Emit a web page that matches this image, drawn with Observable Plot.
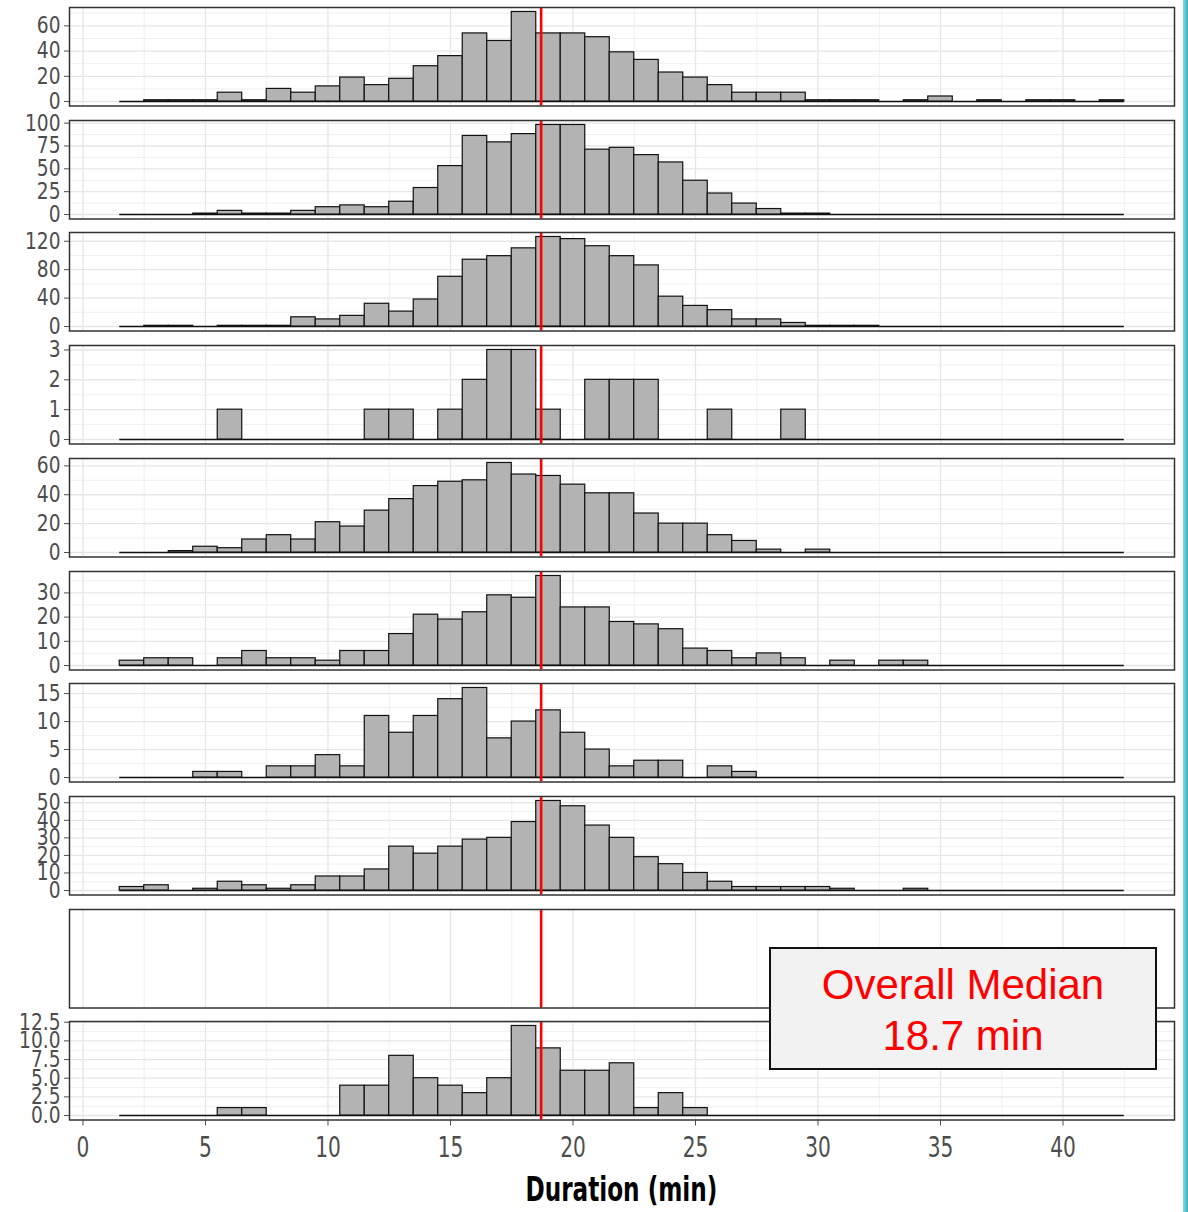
<!DOCTYPE html>
<html><head><meta charset="utf-8">
<script src="https://cdn.jsdelivr.net/npm/d3@7"></script>
<script src="https://cdn.jsdelivr.net/npm/@observablehq/plot@0.6"></script>
<style>
html,body{margin:0;padding:0;background:#fff;}
#chart{position:relative;width:1188px;height:1212px;overflow:hidden;background:#fff;}
.panel{position:absolute;left:0;}
#xtitle{position:absolute;left:69px;width:1105px;top:1170px;text-align:center;font-weight:bold;font-size:33px;font-family:'Liberation Sans Narrow','DejaVu Sans Condensed','Liberation Sans',sans-serif;color:#000;transform:scaleX(0.78);transform-origin:552px 50%;}
#note{position:absolute;left:769px;top:947px;width:388px;height:123px;box-sizing:border-box;border:2px solid #111;background:#f2f2f2;font-size:42px;font-family:'Liberation Sans',Arial,sans-serif;color:#ff0000;text-align:center;line-height:51px;padding-top:10px;}
#stripe{position:absolute;left:1183px;top:0;width:5px;height:1212px;background:linear-gradient(to right,#8adbe4,#2fb3c4);}
</style></head>
<body><div id="chart"></div>
<script>
// Histogram bin centres (minutes), bin width 1
const durationBins = [2,3,4,5,6,7,8,9,10,11,12,13,14,15,16,17,18,19,20,21,22,23,24,25,26,27,28,29,30,31,32,33,34,35,36,37,38,39,40,41,42];
const binWidth = 1;
const overallMedian = 18.7;

// Counts per panel (bins 2..42)
const counts1 = [0,1,1,1,7,1,10,7,12,19, 13,18,28,36,54,48,71,54,54,51, 39,33,23,19,13,7,7,7,1,1, 1,0,1,4,0,1,0,1,1,0,1];
const counts2 = [0,0,0,1,4,1,1,4,8,10, 8,14,29,53,86,79,88,98,98,71, 73,65,57,37,23,12,6,1,1,0, 0,0,0,0,0,0,0,0,0,0,0];
const counts3 = [0,1,1,0,1,1,1,13,10,15, 32,21,38,70,94,99,110,126,123,113, 99,86,42,29,23,10,10,5,1,1, 1,0,0,0,0,0,0,0,0,0,0];
const counts4 = [0,0,0,0,1,0,0,0,0,0, 1,1,0,1,2,3,3,1,0,2, 2,2,0,0,1,0,0,1,0,0, 0,0,0,0,0,0,0,0,0,0,0];
const counts5 = [0,0,1,4,3,9,12,9,21,18, 29,37,46,49,50,62,54,53,47,41, 41,27,20,20,12,8,2,0,2,0, 0,0,0,0,0,0,0,0,0,0,0];
const counts6 = [2,3,3,0,3,6,3,3,2,6, 6,13,21,19,22,29,28,37,24,24, 18,17,15,7,6,3,5,3,0,2, 0,2,2,0,0,0,0,0,0,0,0];
const counts7 = [0,0,0,1,1,0,2,2,4,2, 11,8,11,14,16,7,10,12,8,5, 2,3,3,0,2,1,0,0,0,0, 0,0,0,0,0,0,0,0,0,0,0];
const counts8 = [2,3,0,1,5,3,1,3,8,8, 12,25,21,25,29,30,39,51,48,37, 30,19,15,10,5,2,2,2,2,1, 0,0,1,0,0,0,0,0,0,0,0];
const counts9 = [];
const counts10 = [0,0,0,0,1,1,0,0,0,4, 4,8,5,4,3,5,12,9,6,6, 7,1,3,1,0,0,0,0,0,0, 0,0,0,0,0,0,0,0,0,0,0];

// Tick labels
const yTicks1 = [0,20,40,60];
const yTicks2 = [0,25,50,75,100];
const yTicks3 = [0,40,80,120];
const yTicks4 = [0,1,2,3];
const yTicks5 = [0,20,40,60];
const yTicks6 = [0,10,20,30];
const yTicks7 = [0,5,10,15];
const yTicks8 = [0,10,20,30,40,50];
const yTicks9 = [];
const yTicks10 = [0,2.5,5,7.5,10,12.5];
const xTicks = [0,5,10,15,20,25,30,35,40];
const xLabel = "Duration (min)";
const noteLines = ["Overall Median", "18.7 min"];

const intFmt = d3.format("d");
const decFmt = d3.format(".1f");
const panels = [
  {counts: counts1, ticks: yTicks1, fmt: intFmt},
  {counts: counts2, ticks: yTicks2, fmt: intFmt},
  {counts: counts3, ticks: yTicks3, fmt: intFmt},
  {counts: counts4, ticks: yTicks4, fmt: intFmt},
  {counts: counts5, ticks: yTicks5, fmt: intFmt},
  {counts: counts6, ticks: yTicks6, fmt: intFmt},
  {counts: counts7, ticks: yTicks7, fmt: intFmt},
  {counts: counts8, ticks: yTicks8, fmt: intFmt},
  {counts: counts9, ticks: yTicks9, fmt: intFmt},
  {counts: counts10, ticks: yTicks10, fmt: decFmt}
];

const chart = document.getElementById("chart");
const W = 1188, mL = 69, mR = 14;
const panelH = 98.5, period = 112.7, firstTop = 7;
const edgeLo = d3.min(durationBins) - binWidth / 2;
const edgeHi = d3.max(durationBins) + binWidth / 2;
const pad = (edgeHi - edgeLo) * 0.05;
const xDomain = [edgeLo - pad, edgeHi + pad];
const xMinor = xTicks.map(t => t + 2.5).filter(t => t > xDomain[0] && t < xDomain[1]);
const fontFam = "'Liberation Sans Narrow','DejaVu Sans Condensed','Liberation Sans',sans-serif";

// narrow the axis label glyphs horizontally around their anchor points
function squeeze(svg, selector, s) {
  svg.querySelectorAll(selector).forEach(t => {
    const x = parseFloat(t.getAttribute("x")) || 0;
    const tr = t.getAttribute("transform") || "";
    t.setAttribute("transform", `${tr} translate(${x},0) scale(${s},1) translate(${-x},0)`);
  });
}

panels.forEach((p, i) => {
  const last = i === panels.length - 1;
  const data = p.counts.map((n, j) => ({x1: durationBins[j] - binWidth / 2, x2: durationBins[j] + binWidth / 2, n}));
  const maxN = data.length ? d3.max(data, d => d.n) : 1;
  const yDomain = [-0.05 * maxN, 1.05 * maxN];
  const step = p.ticks.length > 1 ? p.ticks[1] - p.ticks[0] : 0;
  const yMinor = step ? p.ticks.map(t => t + step / 2).filter(t => t < yDomain[1]) : [];
  const mt = 10, mb = last ? 80 : 10;
  const marks = [
    Plot.ruleX(xMinor, {stroke: "#ececec", strokeWidth: 0.8}),
    Plot.ruleX(xTicks, {stroke: "#e6e6e6", strokeWidth: 1.3}),
  ];
  if (p.ticks.length) {
    marks.push(Plot.ruleY(yMinor, {stroke: "#ececec", strokeWidth: 0.8}));
    marks.push(Plot.ruleY(p.ticks, {stroke: "#e6e6e6", strokeWidth: 1.3}));
  }
  if (data.length) {
    marks.push(Plot.ruleY([0], {x1: edgeLo, x2: edgeHi, stroke: "#111", strokeWidth: 1.3}));
    marks.push(Plot.rectY(data, {x1: "x1", x2: "x2", y: "n", fill: "#b3b3b3", stroke: "#111", strokeWidth: 1.2, inset: 0}));
  }
  marks.push(Plot.ruleX([overallMedian], {stroke: "#ff0000", strokeWidth: 2.6}));
  marks.push(Plot.frame({stroke: "#333", strokeWidth: 1.5}));
  if (p.ticks.length) {
    marks.push(Plot.axisY({ticks: p.ticks, tickFormat: p.fmt, tickSize: 5, tickPadding: 4, fontSize: 23, color: "#4d4d4d", label: null}));
  }
  if (last) {
    marks.push(Plot.axisX({ticks: xTicks, tickFormat: intFmt, tickSize: 6, tickPadding: 11, fontSize: 28, color: "#4d4d4d", label: null}));
  }
  const svg = Plot.plot({
    width: W,
    height: panelH + mt + mb,
    marginLeft: mL, marginRight: mR, marginTop: mt, marginBottom: mb,
    x: {domain: xDomain, axis: last ? undefined : null},
    y: {domain: yDomain, axis: p.ticks.length ? undefined : null},
    style: {background: "transparent", overflow: "visible", fontFamily: fontFam},
    marks
  });
  squeeze(svg, 'g[aria-label="y-axis tick label"] text', 0.9);
  squeeze(svg, 'g[aria-label="x-axis tick label"] text', 0.8);
  const holder = document.createElement("div");
  holder.className = "panel";
  holder.style.top = (firstTop + period * i - mt) + "px";
  holder.appendChild(svg);
  chart.appendChild(holder);
});

const title = document.createElement("div");
title.id = "xtitle";
title.textContent = xLabel;
chart.appendChild(title);

const note = document.createElement("div");
note.id = "note";
note.innerHTML = noteLines.map(s => `<div>${s}</div>`).join("");
chart.appendChild(note);

const stripe = document.createElement("div");
stripe.id = "stripe";
chart.appendChild(stripe);
</script>
</body></html>
